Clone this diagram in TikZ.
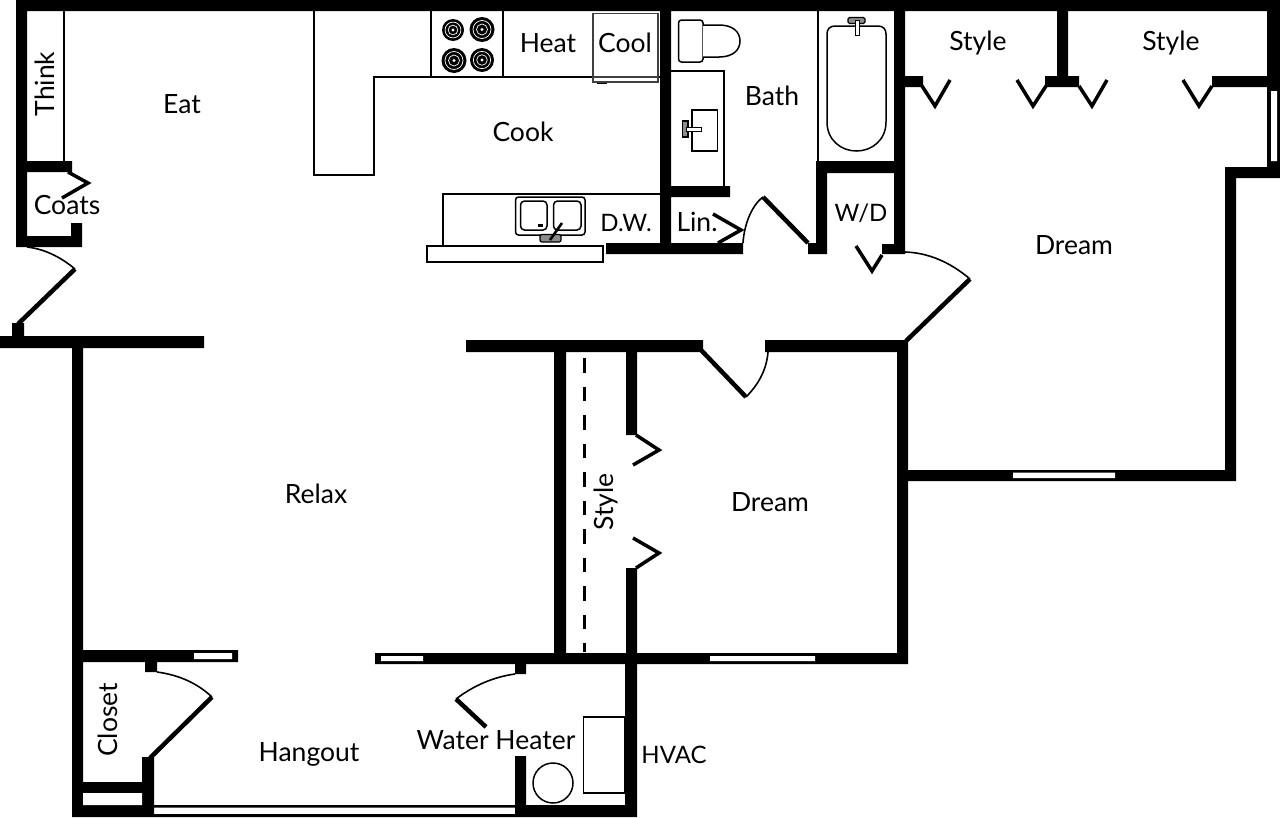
\documentclass[tikz,border=0pt]{standalone}
\usepackage{fontspec}
\setmainfont{Lato}
\tikzset{
  wall/.style={fill=black},
  glass/.style={fill=white},
  thin/.style={draw=black,line width=2.4pt,fill=none},
  fixture/.style={draw=black,line width=1.5pt,fill=white},
  leaf/.style={draw=black,line width=4.5pt},
  chev/.style={draw=black,line width=3.5pt,miter limit=10},
  swing/.style={draw=black,line width=1.6pt},
  lbl/.style={inner sep=0pt,font=\fontsize{26.5}{29}\selectfont,text=black,text height=18pt,text depth=0pt},
  lblsmall/.style={lbl,font=\fontsize{24}{26}\selectfont},
  burner/.style={fill=black},
  ring/.style={draw=white,line width=0.7pt,fill=none}
}
\begin{document}
\begin{tikzpicture}[x=1pt,y=-1pt]
\useasboundingbox (0,0) rectangle (1280,817);
\fill[white] (0,0) rectangle (1280,817);
% kitchen counters
\draw[thin] (64,11) -- (64,161);
\draw[thin] (314,11) -- (314,175) -- (374,175) -- (374,77) -- (660,77);
\draw[thin] (431,11) -- (431,77);
\draw[thin] (503,11) -- (503,77);
\draw[thin] (443,245) -- (443,194) -- (660,194);
\draw[thin] (724,186) -- (724,71) -- (671,71);
\draw[thin] (818,11) -- (818,161);
\draw[draw=black,line width=2pt,fill=white] (426.5,245.5) rectangle (602.5,261.5);
% fridge
\draw[draw=black!75,line width=1.5pt,fill=white] (593,13.5) rectangle (658,82);
\draw[draw=black!75,line width=1.2pt] (593,77) -- (658,77);
\draw[draw=black,line width=1.2pt] (597,83.5) -- (607,83.5);
% burners
\foreach \cx/\cy/\r in {453/30/11,482/29.5/12.5,454/60.5/12.5,482/60/12}{
  \fill[burner] (\cx,\cy) circle (\r);
  \draw[ring] (\cx,\cy) circle (\r*0.72);
  \draw[ring] (\cx,\cy) circle (\r*0.44);
  \fill[white] (\cx,\cy) circle (1.6);
}
% sink
\draw[fixture,rounded corners=3pt] (515.5,197) rectangle (585,235);
\draw[fixture,rounded corners=4pt] (520.5,201) rectangle (547,230);
\draw[fixture,rounded corners=4pt] (553.5,201) rectangle (581,230);
\fill[black] (538,224) rectangle (543,227);
\draw[draw=black,line width=1.2pt,fill=black!45,rounded corners=2pt] (540,234.5) rectangle (561,242);
\draw[draw=black,line width=2.6pt] (550,240) -- (562,223);
% bath vanity sink
\draw[fixture,line width=1.3pt] (692,110) rectangle (717.5,151);
\draw[draw=black,line width=1.2pt,fill=black!45] (682.5,121) rectangle (688,137);
\draw[draw=black,line width=1pt,fill=white] (686,127.5) rectangle (701.5,131);
% toilet
\draw[fixture,rounded corners=3pt] (678.5,20) rectangle (703,62);
\draw[fixture] (703,25) -- (719,25) .. controls (733,25) and (740,32) .. (740,41) .. controls (740,50) and (733,57) .. (719,57) -- (703,57);
% tub
\draw[fixture] (827,34) .. controls (827,29) and (830,26) .. (835,26) -- (878,26) .. controls (883,26) and (886,29) .. (886,34) -- (886,122) .. controls (886,140) and (872,151) .. (856.5,151) .. controls (841,151) and (827,140) .. (827,122) -- cycle;
\draw[draw=black,line width=1.2pt,fill=black!45,rounded corners=1.5pt] (848,17.5) rectangle (865,23.5);
\draw[draw=black,line width=1pt,fill=white] (855,20) rectangle (859,35);
% HVAC and heater
\draw[fixture] (583.5,717) rectangle (625,793);
\draw[fixture] (553,783) circle (20);
% dashed line
\draw[draw=black,line width=3pt,dash pattern=on 14.5pt off 14pt] (584,358) -- (584,652);
% walls
\fill[wall]
  (16,0) rectangle (1280,11)
  (16,0) rectangle (27,247)
  (27,161) rectangle (72,172)
  (16,236) rectangle (82,247)
  (71,223) rectangle (82,247)
  (0,336) rectangle (204,348)
  (12,323) rectangle (24,337)
  (72,348) rectangle (83,817)
  (83,650) rectangle (238,662)
  (145,662) rectangle (157,672)
  (142,757) rectangle (154,817)
  (83,782) rectangle (142,793)
  (72,805) rectangle (154,817)
  (375,653) rectangle (908,664)
  (515,664) rectangle (526,674)
  (515,756) rectangle (526,817)
  (625,664) rectangle (637,817)
  (515,805) rectangle (637,817)
  (466,340) rectangle (703,352)
  (765,340) rectangle (908,352)
  (554,352) rectangle (566,653)
  (626,352) rectangle (637,435)
  (626,568) rectangle (637,653)
  (897,340) rectangle (908,664)
  (660,11) rectangle (671,254)
  (606,243) rectangle (743,254)
  (671,186) rectangle (730,197)
  (816,161) rectangle (905,173)
  (816,173) rectangle (827,254)
  (808,243) rectangle (827,254)
  (894,11) rectangle (905,254)
  (882,244) rectangle (905,254)
  (905,76) rectangle (923,87)
  (1057,11) rectangle (1068,76)
  (1045,76) rectangle (1079,87)
  (1212,76) rectangle (1280,87)
  (1267,0) rectangle (1280,178)
  (1225,167) rectangle (1280,178)
  (1225,167) rectangle (1236,481)
  (908,470) rectangle (1236,481);
% windows
\fill[glass]
  (194,653) rectangle (232,659)
  (381,656) rectangle (423,661)
  (710,656) rectangle (815,661)
  (1013,472.5) rectangle (1115,478)
  (1271,91) rectangle (1277,161)
  (83,793) rectangle (142,805);
\fill[black] (154,805) rectangle (515,807.5) (154,814) rectangle (515,817);
% door leaves
\draw[leaf] (75,269) -- (18,324);
\draw[leaf] (212,697) -- (150,758);
\draw[leaf] (456,699) -- (486,727);
\draw[leaf] (701,350) -- (746,397);
\draw[leaf] (763,197) -- (808,243);
\draw[leaf] (970,279) -- (906,341);
% swings
\draw[swing] (27,247) .. controls (47,249.3) and (63,259) .. (75,269);
\draw[swing] (157,672) .. controls (179,675) and (197,683) .. (212,697);
\draw[swing] (515,674) .. controls (493,677) and (473,686) .. (456,699);
\draw[swing] (768,352) .. controls (766.7,369) and (759,384) .. (746,397);
\draw[swing] (743,243) .. controls (744,226) and (751,206) .. (763,197);
\draw[swing] (905,252) .. controls (928,252.7) and (950,262) .. (970,279);
% chevrons
\draw[chev] (68,172) -- (88,183) -- (62,198);
\draw[chev] (713,214) -- (741,230) -- (718,243);
\draw[chev] (856,246) -- (872,271) -- (882,255);
\draw[chev] (922,86) -- (935,106) -- (950,80);
\draw[chev] (1017,80) -- (1033,106) -- (1046,86);
\draw[chev] (1079,86) -- (1092,106) -- (1107,80);
\draw[chev] (1183,80) -- (1199,106) -- (1212,86);
\draw[chev] (636,435) -- (659,450) -- (633,465);
\draw[chev] (633,538) -- (659,553) -- (636,568);
% labels
\node[lbl,rotate=90] (think) at (45,84) {Think};
\node[lbl] (eat) at (182,104) {Eat};
\node[lbl] (coats) at (67,205) {Coats};
\node[lbl] (cook) at (523,132) {Cook};
\node[lbl] (heat) at (548,43) {Heat};
\node[lbl] (cool) at (625,43) {Cool};
\node[lblsmall] (dw) at (626,222) {D.W.};
\node[lbl] (lin) at (697,222) {Lin.};
\node[lbl] (bath) at (772,96) {Bath};
\node[lblsmall] (wd) at (861,212) {W/D};
\node[lbl] (style1) at (978,41) {Style};
\node[lbl] (style2) at (1171,41) {Style};
\node[lbl] (dream1) at (1074,245) {Dream};
\node[lbl] (dream2) at (770,502) {Dream};
\node[lbl] (relax) at (316,494) {Relax};
\node[lbl,rotate=90] (style3) at (604,502) {Style};
\node[lbl,rotate=90] (closet) at (108,720) {Closet};
\node[lbl] (hangout) at (309,752) {Hangout};
\node[lbl] (water) at (496,740) {Water Heater};
\node[lblsmall] (hvac) at (674,754) {HVAC};
\end{tikzpicture}
\end{document}
